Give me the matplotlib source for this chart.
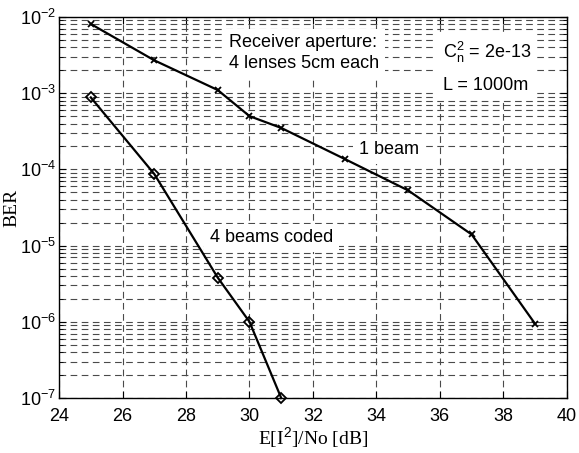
import matplotlib
matplotlib.use("Agg")
import matplotlib.pyplot as plt
from matplotlib.ticker import LogLocator, FixedLocator, NullFormatter

plt.rcParams['font.family'] = ['Liberation Sans', 'DejaVu Sans']
plt.rcParams['mathtext.fontset'] = 'custom'
plt.rcParams['mathtext.rm'] = 'Liberation Sans'
plt.rcParams['mathtext.it'] = 'Liberation Sans:italic'
plt.rcParams['mathtext.bf'] = 'Liberation Sans:bold'

# data
snr_1beam = [25, 27, 29, 30, 31, 33, 35, 37, 39]
ber_1beam = [8.1e-3, 2.7e-3, 1.1e-3, 5.0e-4, 3.5e-4, 1.37e-4, 5.3e-5, 1.4e-5, 9.4e-7]
snr_4beams = [25, 27, 29, 30, 31]
ber_4beams = [8.8e-4, 8.7e-5, 3.8e-6, 1.0e-6, 1.0e-7]
x_ticks = [24, 26, 28, 30, 32, 34, 36, 38, 40]
y_ticks = [1e-7, 1e-6, 1e-5, 1e-4, 1e-3, 1e-2]
y_ticklabels = [r'$10^{-7}$', r'$10^{-6}$', r'$10^{-5}$', r'$10^{-4}$', r'$10^{-3}$', r'$10^{-2}$']

fig = plt.figure(figsize=(5.79, 4.53), dpi=100)
ax = fig.add_axes([0.102, 0.1214, 0.877, 0.8411])

ax.semilogy(snr_1beam, ber_1beam, color='black', lw=1.6, marker='x', ms=4, mew=1.3,
            zorder=3, clip_on=False)
ax.semilogy(snr_4beams, ber_4beams, color='black', lw=1.6, marker='D', ms=5.5, mfc='none',
            mew=1.3, zorder=3, clip_on=False)

ax.set_xlim(24, 40)
ax.set_ylim(1e-7, 1e-2)
ax.set_xticks(x_ticks)
ax.set_xticklabels([str(v) for v in x_ticks])
ax.yaxis.set_major_locator(FixedLocator(y_ticks))
ax.set_yticklabels(y_ticklabels)
ax.yaxis.set_minor_locator(LogLocator(base=10, subs=range(2, 10), numticks=20))
ax.yaxis.set_minor_formatter(NullFormatter())

ax.tick_params(which='both', direction='in', top=True, right=True, labelsize=13)
ax.tick_params(axis='x', pad=7)
ax.tick_params(axis='y', pad=2)
ax.tick_params(which='major', length=5)
ax.tick_params(which='minor', length=3)

grid_kw = dict(color='#4a4a4a', linestyle=(0, (6, 4)), linewidth=0.8)
ax.grid(True, which='major', axis='both', **grid_kw)
ax.grid(True, which='minor', axis='y', **grid_kw)
ax.set_axisbelow(True)
for s in ax.spines.values():
    s.set_linewidth(1.0)

ax.set_xlabel(r'E[I$^2$]/No [dB]', family='Liberation Serif', fontsize=14, labelpad=0)
ax.set_ylabel('BER', family='Liberation Serif', fontsize=14, labelpad=0)

box = dict(facecolor='white', edgecolor='none', pad=4)
ax.text(29.35, 3.37e-3, 'Receiver aperture:\n4 lenses 5cm each', fontsize=13,
        ha='left', va='center', bbox=box, zorder=2, linespacing=1.25)
ax.text(36.1, 2.2e-3, '$\\mathrm{C_n^2}$ = 2e-13\nL = 1000m', fontsize=13,
        ha='left', va='center', bbox=box, zorder=2, linespacing=1.9)
ax.text(33.45, 1.8e-4, '1 beam', fontsize=13, ha='left', va='center', bbox=box, zorder=2)
ax.text(28.75, 1.26e-5, '4 beams coded', fontsize=13, ha='left', va='center', bbox=box, zorder=2)

fig.savefig('out.png', dpi=100)
